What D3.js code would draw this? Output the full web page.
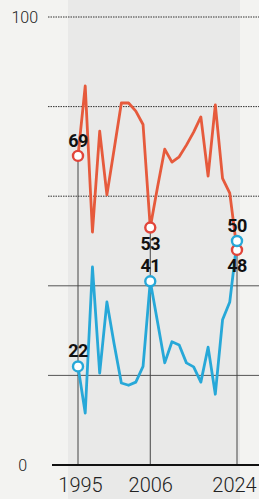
<!DOCTYPE html>
<html>
<head>
<meta charset="utf-8">
<script src="https://cdn.jsdelivr.net/npm/d3@7"></script>
<style>
  body { margin: 0; background: #f3f3f1; }
  svg { display: block; }
  .lbl { font-family: "Roboto", "DejaVu Sans", sans-serif; font-weight: 700; font-size: 18px; fill: #111; letter-spacing: -0.5px; }
  .tick text { font-family: "Roboto", sans-serif; font-weight: 300; fill: #222; }
</style>
</head>
<body>
<svg id="chart"></svg>
<script>
// data ------------------------------------------
var years = ["1995", "2006", "2024"];
var yearIndex = [0, 10, 22];
var redValues = [69, 84.6, 52, 74.5, 60.3, 70.5, 80.8, 80.8, 79, 76, 53, 62, 70.5, 67.6, 68.8, 71.4, 74.3, 77.7, 64.5, 80.4, 64, 60.7, 48];
var blueValues = [22, 11.6, 44.2, 20.5, 36.4, 27, 18.3, 17.8, 18.5, 22, 41, 32, 22.8, 27.5, 26.8, 22.8, 21.9, 18.5, 26.3, 15.8, 32.4, 36.4, 50];
var gridValues = [20, 40, 60, 80, 100];
var yLabels = [0, 100];

var width = 259;
var height = 499;

var svg = d3.select("#chart")
  .attr("width", width)
  .attr("height", height);

// paper background + faint watermark band
svg.append("rect").attr("width", width).attr("height", height).attr("fill", "#f3f3f1");
svg.append("rect").attr("x", 68).attr("y", 0).attr("width", 172).attr("height", height).attr("fill", "#e9e9e8");

// scales ----------------------------------------
var x = d3.scalePoint()
  .domain(d3.range(redValues.length))
  .range([78, 237]);

var y = d3.scaleLinear()
  .domain([0, 100])
  .range([465, 17]);

// horizontal grid
svg.append("g")
  .selectAll("line")
  .data(gridValues)
  .enter().append("line")
  .attr("x1", 48)
  .attr("x2", width)
  .attr("y1", function(d) { return y(d); })
  .attr("y2", function(d) { return y(d); })
  .attr("stroke", function(d) { return d >= 60 ? "#333" : "#555"; })
  .attr("stroke-width", 1)
  .attr("stroke-dasharray", function(d) { return d >= 60 ? "1.5,1" : null; });

// vertical lines under the labelled points
svg.append("g")
  .selectAll("line")
  .data(yearIndex)
  .enter().append("line")
  .attr("x1", function(d) { return x(d); })
  .attr("x2", function(d) { return x(d); })
  .attr("y1", function(d) { return y(Math.max(redValues[d], blueValues[d])); })
  .attr("y2", y(0))
  .attr("stroke", "#444")
  .attr("stroke-width", 1);

// y labels
svg.append("g")
  .selectAll("text")
  .data(yLabels)
  .enter().append("text")
  .attr("x", function(d) { return d === 0 ? 27 : 38; })
  .attr("y", function(d) { return y(d) + 6; })
  .attr("text-anchor", "end")
  .style("font-family", "Roboto, sans-serif")
  .style("font-weight", 300)
  .style("font-size", "16px")
  .style("fill", "#222")
  .text(function(d) { return d; });

// x axis
var xAxis = d3.axisBottom(x)
  .tickValues(yearIndex)
  .tickFormat(function(d, i) { return years[i]; })
  .tickSize(0)
  .tickPadding(13);

var gx = svg.append("g")
  .attr("transform", "translate(0," + y(0) + ")")
  .call(xAxis);
gx.select(".domain").remove();
gx.selectAll(".tick text").style("font-size", "20px");
gx.selectAll(".tick:first-of-type text").attr("dx", 2);
gx.selectAll(".tick:last-of-type text").attr("dx", -3);

svg.append("line")
  .attr("x1", 52).attr("x2", width)
  .attr("y1", y(0)).attr("y2", y(0))
  .attr("stroke", "#111").attr("stroke-width", 2.2);

// lines -----------------------------------------
var line = d3.line()
  .x(function(d, i) { return x(i); })
  .y(function(d) { return y(d); });

var series = [
  { values: redValues, color: "#e65a3c" },
  { values: blueValues, color: "#27a8d8" }
];

series.forEach(function(s) {
  svg.append("path")
    .datum(s.values)
    .attr("d", line)
    .attr("fill", "none")
    .attr("stroke", s.color)
    .attr("stroke-width", 2.8)
    .attr("stroke-linejoin", "round");
});

// circles + labels
var markers = [];
yearIndex.forEach(function(idx) {
  markers.push({ i: idx, v: redValues[idx], color: "#e2453a", above: idx === 0 });
  markers.push({ i: idx, v: blueValues[idx], color: "#27a8d8", above: true });
});

svg.append("g")
  .selectAll("circle")
  .data(markers)
  .enter().append("circle")
  .attr("cx", function(d) { return x(d.i); })
  .attr("cy", function(d) { return y(d.v); })
  .attr("r", 5)
  .attr("fill", "#fff")
  .attr("stroke", function(d) { return d.color; })
  .attr("stroke-width", 2.4);

svg.append("g")
  .selectAll("text")
  .data(markers)
  .enter().append("text")
  .attr("class", "lbl")
  .attr("x", function(d) { return x(d.i); })
  .attr("y", function(d) { return d.above ? y(d.v) - 9 : y(d.v) + 22; })
  .attr("text-anchor", "middle")
  .text(function(d) { return Math.round(d.v); });
</script>
</body>
</html>
